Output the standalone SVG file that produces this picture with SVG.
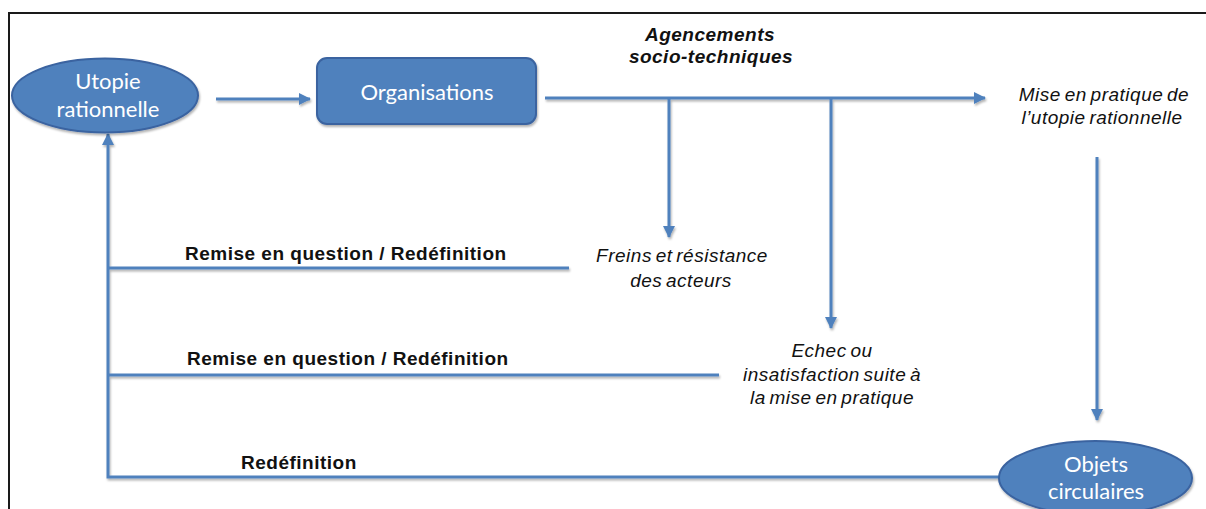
<svg xmlns="http://www.w3.org/2000/svg" width="1206" height="509" viewBox="0 0 1206 509">
<defs>
<style>
.node{fill:#4F81BD;stroke:#3A63A0;stroke-width:2}
.nt{font-family:Lato,"Open Sans",sans-serif;font-size:22px;fill:#FFFFFF;text-anchor:middle}
.ln{fill:none;stroke:#4F81BD;stroke-width:3}
.it{font-family:"Liberation Sans",Arial,sans-serif;font-style:italic;font-size:19px;fill:#111;text-anchor:middle;letter-spacing:0.5px;word-spacing:-2px}
.bi{font-family:"Liberation Sans",Arial,sans-serif;font-style:italic;font-weight:bold;font-size:19px;fill:#111;text-anchor:middle;letter-spacing:0.5px}
.bd{font-family:"Liberation Sans",Arial,sans-serif;font-weight:bold;font-size:19px;fill:#111;letter-spacing:0.5px}
</style>
<marker id="ah" markerUnits="userSpaceOnUse" markerWidth="12" markerHeight="12" refX="11" refY="6" orient="auto">
<path d="M0,0 L12,6 L0,12 z" fill="#4F81BD"/>
</marker>
<filter id="sh" x="-5%" y="-5%" width="110%" height="120%">
<feDropShadow dx="1" dy="2" stdDeviation="1" flood-color="#000" flood-opacity="0.3"/>
</filter>
</defs>
<rect width="1206" height="509" fill="#FFFFFF"/>
<path d="M9,509 L9,13 L1206,13" fill="none" stroke="#1a1a1a" stroke-width="2"/>
<g id="connectors" filter="url(#sh)">
<line class="ln" x1="216" y1="99" x2="310" y2="99" marker-end="url(#ah)"/>
<line class="ln" x1="545" y1="98" x2="985" y2="98" marker-end="url(#ah)"/>
<line class="ln" x1="669" y1="98" x2="669" y2="237" marker-end="url(#ah)"/>
<line class="ln" x1="831" y1="98" x2="831" y2="328" marker-end="url(#ah)"/>
<line class="ln" x1="1097" y1="157" x2="1097" y2="420" marker-end="url(#ah)"/>
<polyline class="ln" points="1000,477 108,477 108,134" marker-end="url(#ah)"/>
<line class="ln" x1="569" y1="268" x2="108" y2="268"/>
<line class="ln" x1="719" y1="375" x2="108" y2="375"/>
</g>
<g id="utopie">
<ellipse class="node" cx="105" cy="95.5" rx="93" ry="37" filter="url(#sh)"/>
<text class="nt" x="108" y="89">Utopie</text>
<text class="nt" x="108" y="117">rationnelle</text>
</g>
<g id="organisations">
<rect class="node" x="317" y="58" width="219" height="66" rx="10" filter="url(#sh)"/>
<text class="nt" x="427" y="100">Organisations</text>
</g>
<g id="objets">
<ellipse class="node" cx="1095.5" cy="478" rx="96.5" ry="37" filter="url(#sh)"/>
<text class="nt" x="1096" y="472">Objets</text>
<text class="nt" x="1096" y="499">circulaires</text>
</g>
<g id="agencements">
<text class="bi" x="710" y="41">Agencements</text>
<text class="bi" x="711" y="63">socio-techniques</text>
</g>
<g id="mise-en-pratique">
<text class="it" x="1104" y="101">Mise en pratique de</text>
<text class="it" x="1102" y="124">l’utopie rationnelle</text>
</g>
<g id="freins">
<text class="it" x="682" y="262">Freins et résistance</text>
<text class="it" x="681" y="287">des acteurs</text>
</g>
<g id="echec">
<text class="it" x="832" y="357">Echec ou</text>
<text class="it" x="832" y="381">insatisfaction suite à</text>
<text class="it" x="832" y="404">la mise en pratique</text>
</g>
<g id="labels">
<text class="bd" x="185" y="260">Remise en question / Redéfinition</text>
<text class="bd" x="187" y="365">Remise en question / Redéfinition</text>
<text class="bd" x="241" y="469">Redéfinition</text>
</g>
</svg>
